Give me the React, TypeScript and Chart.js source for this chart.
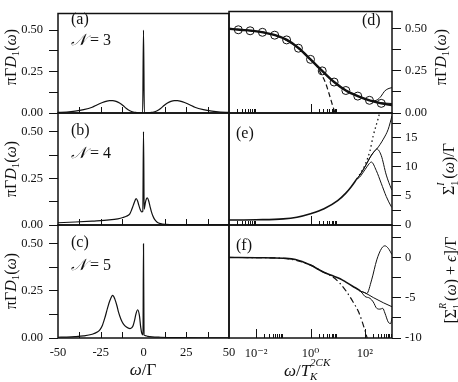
import React, { useEffect, useRef } from "react";
import { Chart, registerables } from "chart.js";

Chart.register(...registerables);

const W = 458;
const H = 382;
const SERIF = '"Liberation Serif", "Times New Roman", "DejaVu Serif", serif';
const INK = "#111";

// ---------- panel (a): N = 3 ----------
const omegaA = [-50, -45, -40, -35, -30, -27, -24, -22, -20, -18, -16, -14, -12, -10, -8, -6, -4, -2, -0.5, 0, 0.5, 2, 4, 6, 8, 10, 12, 14, 16, 18, 20, 22, 24, 27, 30, 35, 40, 45, 50];
const dosA = [0.004, 0.006, 0.011, 0.02, 0.035, 0.05, 0.063, 0.07, 0.075, 0.075, 0.07, 0.06, 0.045, 0.027, 0.014, 0.006, 0.003, 0.001, 0, 0.5, 0, 0.001, 0.003, 0.006, 0.014, 0.027, 0.045, 0.06, 0.07, 0.075, 0.075, 0.07, 0.063, 0.05, 0.035, 0.02, 0.011, 0.006, 0.004];

// ---------- panel (b): N = 4 ----------
const omegaB = [-50, -40, -30, -20, -15, -12, -10, -8, -7, -6, -5, -4.3, -3.5, -2.7, -1.8, -1.0, -0.4, 0, 0.4, 1.0, 1.6, 2.2, 3.0, 3.8, 4.6, 5.5, 6.5, 8, 10, 13, 20, 35, 50];
const dosB = [0.012, 0.016, 0.021, 0.027, 0.033, 0.04, 0.047, 0.06, 0.08, 0.105, 0.13, 0.142, 0.13, 0.105, 0.08, 0.07, 0.074, 0.5, 0.085, 0.115, 0.138, 0.145, 0.13, 0.1, 0.072, 0.048, 0.03, 0.015, 0.007, 0.003, 0.001, 0.0005, 0.0003];

// ---------- panel (c): N = 5 ----------
const omegaC = [-50, -45, -40, -35, -30, -27, -25.4, -24, -22.5, -21, -19.6, -18, -16.7, -15.5, -14.7, -13.2, -11.8, -10, -7.9, -6.8, -6, -5.2, -4.4, -3.4, -2.4, -1.6, -0.9, -0.3, 0, 0.3, 1, 2.5, 5, 10, 20, 35, 50];
const dosC = [0.004, 0.005, 0.007, 0.011, 0.02, 0.032, 0.045, 0.068, 0.11, 0.16, 0.2, 0.226, 0.205, 0.17, 0.14, 0.1, 0.075, 0.058, 0.05, 0.055, 0.068, 0.095, 0.128, 0.15, 0.12, 0.055, 0.022, 0.017, 0.5, 0.016, 0.013, 0.009, 0.006, 0.004, 0.002, 0.001, 0.0006];

// ---------- panel (d): spectral function vs omega/T_K ----------
const omegaDMain = [0.001, 0.0025, 0.0067, 0.018, 0.05, 0.135, 0.37, 1, 2.7, 7.4, 20, 55, 148, 403, 1000];
const dosDMain = [0.498, 0.492, 0.486, 0.477, 0.46, 0.432, 0.383, 0.317, 0.249, 0.183, 0.133, 0.1, 0.075, 0.057, 0.046];
const omegaDCircles = [0.0022, 0.006, 0.017, 0.048, 0.132, 0.36, 1, 2.7, 7.4, 20, 55, 148, 403];
const dosDCircles = [0.492, 0.486, 0.477, 0.46, 0.432, 0.383, 0.317, 0.249, 0.183, 0.133, 0.1, 0.075, 0.057];
const omegaDDash = [0.001, 0.0067, 0.05, 0.37, 1, 1.6, 2.3, 3.6, 4.8, 6.3, 7.6, 8.1];
const dosDDash = [0.498, 0.486, 0.46, 0.383, 0.317, 0.285, 0.24, 0.177, 0.115, 0.052, 0.012, 0];
const omegaDRise = [55, 148, 200, 282, 400, 525, 710, 1000];
const dosDRise = [0.1, 0.075, 0.072, 0.077, 0.1, 0.128, 0.143, 0.15];
const omegaDUpper = [148, 300, 1000];
const dosDUpper = [0.075, 0.063, 0.056];

// ---------- panel (e): imaginary self-energy ----------
const omegaEMain = [0.001, 0.01, 0.1, 0.316, 1, 3.16, 10, 20, 31.6, 50];
const sigEMain = [0.85, 0.9, 1.05, 1.35, 1.95, 2.8, 4.2, 5.5, 6.6, 7.9];
const omegaEDot = [50, 63, 100, 155, 204, 316, 360];
const sigEDot = [7.9, 8.6, 10.3, 12.8, 15.4, 18.5, 19.6];
const omegaERise = [50, 63, 100, 158, 224, 275, 480, 725, 1000];
const sigERise = [7.9, 8.5, 10.0, 11.7, 12.7, 13.1, 14.8, 16.5, 18.8];
const omegaEPeak = [50, 63, 100, 158, 224, 275, 400, 617, 933, 1000];
const sigEPeak = [7.9, 8.5, 10.0, 11.7, 12.7, 13.1, 12.0, 8.6, 6.3, 6.0];
const omegaELow = [50, 63, 100, 141, 174, 263, 400, 617, 933, 1000];
const sigELow = [7.9, 8.2, 9.5, 10.5, 10.85, 9.4, 7.2, 4.9, 3.2, 3.0];

// ---------- panel (f): real self-energy ----------
const omegaFMain = [0.001, 0.01, 0.1, 0.28, 1, 2.7, 5.5, 12.3, 19.5, 38, 60, 68];
const sigFMain = [0.05, 0.02, -0.05, -0.2, -0.9, -1.7, -2.15, -2.6, -3.0, -3.6, -4.0, -4.15];
const omegaFRise = [68, 100, 117, 178, 275, 417, 550, 724, 1000];
const sigFRise = [-4.15, -4.35, -4.45, -2.75, -0.25, 1.2, 1.5, 1.2, 0.4];
const omegaFSmooth = [68, 100, 204, 479, 1000];
const sigFSmooth = [-4.15, -4.35, -4.95, -5.6, -6.1];
const omegaFWavy = [60, 80, 100, 155, 204, 275, 363, 457, 550, 724, 890, 1000];
const sigFWavy = [-4.0, -4.4, -4.8, -5.05, -5.5, -6.3, -6.4, -6.3, -6.9, -8.0, -8.2, -7.5];
const omegaFDashDot = [0.001, 0.1, 1, 2.7, 5.5, 12.3, 21, 37, 58, 76, 100, 117, 130];
const sigFDashDot = [0.05, -0.05, -0.9, -1.7, -2.2, -3.2, -4.2, -5.5, -6.7, -7.75, -9.0, -9.8, -10.4];

// ---------- ticks ----------
const dosTicks = [0, 0.125, 0.25, 0.375, 0.5];
const dosTickLabels = ["0.00", "", "0.25", "", "0.50"];
const linXTicks = [-50, -25, 0, 25, 50];
const linXLabels = ["-50", "-25", "0", "25", "50"];
const linXInner = [-37.5, -25, -12.5, 12.5, 25, 37.5];
const sigITicks = [0, 2.5, 5, 7.5, 10, 12.5, 15, 17.5];
const sigITickLabels = ["0", "", "5", "", "10", "", "15", ""];
const sigRTicks = [-10, -7.5, -5, -2.5, 0, 2.5];
const sigRTickLabels = ["-10", "", "-5", "", "0", ""];
const logXTicks = [0.01, 1, 100];
const logXLabels = ["10\u207B\u00B2", "10\u2070", "10\u00B2"];
const deInnerMajor = [1];
const deInnerMinor = [0.002, 0.003, 0.004, 0.005, 0.006, 0.007, 0.008, 0.009, 2, 3, 4, 5, 6, 7, 8, 9];
const fInnerMajor = [0.01, 1, 100];
const fInnerMinor = [0.02, 0.03, 0.04, 0.05, 0.06, 0.07, 0.08, 0.09, 2, 3, 4, 5, 6, 7, 8, 9, 200, 300, 400, 500, 600, 700, 800, 900];

// ---------- geometry ----------
const X_LEFT = 58;
const X_MID = 229;
const X_RIGHT = 392;
const ROWS = [1, 113, 225, 338];

type Line = { xs: number[]; ys: number[]; width: number; dash?: number[]; markers?: boolean };
type Panel = {
  left: number; right: number; top: number; bottom: number;
  xLog: boolean; xMin: number; xMax: number;
  yMin: number; yMax: number; ySide: "left" | "right";
  yTicks: number[]; yLabels: string[];
  xTicks: number[] | null; xLabels: string[] | null; xPad: number;
  innerMajor: number[]; innerMinor: number[]; majorLen: number; minorLen: number;
  lines: Line[];
};

const leftPanel = (row: number, xs: number[], ys: number[], showX: boolean): Panel => ({
  left: X_LEFT, right: X_MID, top: ROWS[row], bottom: ROWS[row + 1],
  xLog: false, xMin: -50, xMax: 50, yMin: 0, yMax: 0.6, ySide: "left",
  yTicks: dosTicks, yLabels: dosTickLabels,
  xTicks: showX ? linXTicks : null, xLabels: showX ? linXLabels : null, xPad: 7,
  innerMajor: [], innerMinor: linXInner, majorLen: 6, minorLen: 6,
  lines: [{ xs, ys, width: 1.2 }],
});

const PANELS: Panel[] = [
  leftPanel(0, omegaA, dosA, false),
  leftPanel(1, omegaB, dosB, false),
  leftPanel(2, omegaC, dosC, true),
  {
    left: X_MID, right: X_RIGHT, top: ROWS[0], bottom: ROWS[1],
    xLog: true, xMin: 0.001, xMax: 1000, yMin: 0, yMax: 0.6, ySide: "right",
    yTicks: dosTicks, yLabels: dosTickLabels, xTicks: null, xLabels: null, xPad: 8,
    innerMajor: deInnerMajor, innerMinor: deInnerMinor, majorLen: 9, minorLen: 4,
    lines: [
      { xs: omegaDDash, ys: dosDDash, width: 1.2, dash: [5, 3] },
      { xs: omegaDRise, ys: dosDRise, width: 1 },
      { xs: omegaDUpper, ys: dosDUpper, width: 1 },
      { xs: omegaDMain, ys: dosDMain, width: 2.4 },
      { xs: omegaDCircles, ys: dosDCircles, width: 1, markers: true },
    ],
  },
  {
    left: X_MID, right: X_RIGHT, top: ROWS[1], bottom: ROWS[2],
    xLog: true, xMin: 0.001, xMax: 1000, yMin: 0, yMax: 19.3, ySide: "right",
    yTicks: sigITicks, yLabels: sigITickLabels, xTicks: null, xLabels: null, xPad: 8,
    innerMajor: deInnerMajor, innerMinor: deInnerMinor, majorLen: 9, minorLen: 4,
    lines: [
      { xs: omegaEMain, ys: sigEMain, width: 1.6 },
      { xs: omegaEDot, ys: sigEDot, width: 1.3, dash: [1.5, 3] },
      { xs: omegaERise, ys: sigERise, width: 1 },
      { xs: omegaEPeak, ys: sigEPeak, width: 1 },
      { xs: omegaELow, ys: sigELow, width: 1 },
    ],
  },
  {
    left: X_MID, right: X_RIGHT, top: ROWS[2], bottom: ROWS[3],
    xLog: true, xMin: 0.001, xMax: 1000, yMin: -10, yMax: 4.1, ySide: "right",
    yTicks: sigRTicks, yLabels: sigRTickLabels, xTicks: logXTicks, xLabels: logXLabels, xPad: 8,
    innerMajor: fInnerMajor, innerMinor: fInnerMinor, majorLen: 9, minorLen: 4,
    lines: [
      { xs: omegaFDashDot, ys: sigFDashDot, width: 1.2, dash: [6, 3, 1.5, 3] },
      { xs: omegaFMain, ys: sigFMain, width: 1.6 },
      { xs: omegaFRise, ys: sigFRise, width: 1 },
      { xs: omegaFSmooth, ys: sigFSmooth, width: 1 },
      { xs: omegaFWavy, ys: sigFWavy, width: 1 },
    ],
  },
];

const framePlugin = {
  id: "frame",
  afterDatasetsDraw(chart: any, _args: any, opts: any) {
    const { ctx, chartArea: a } = chart;
    const xs = chart.scales.x;
    ctx.save();
    ctx.strokeStyle = INK;
    ctx.lineWidth = 1;
    const tick = (v: number, len: number) => {
      const px = Math.round(xs.getPixelForValue(v)) + 0.5;
      ctx.beginPath();
      ctx.moveTo(px, a.bottom);
      ctx.lineTo(px, a.bottom - len);
      ctx.stroke();
    };
    (opts.minor || []).forEach((v: number) => tick(v, opts.minorLen));
    (opts.major || []).forEach((v: number) => tick(v, opts.majorLen));
    ctx.lineWidth = 1.5;
    ctx.strokeRect(a.left, a.top, a.right - a.left, a.bottom - a.top);
    ctx.restore();
  },
};

function PanelChart({ p }: { p: Panel }) {
  const ref = useRef<HTMLCanvasElement>(null);
  useEffect(() => {
    const showX = !!p.xTicks;
    const font = { family: SERIF, size: 12.5 };
    const chart = new Chart(ref.current!, {
      type: "line",
      data: {
        datasets: p.lines.map((l) => ({
          data: l.xs.map((x, i) => ({ x, y: l.ys[i] })),
          borderColor: INK,
          borderWidth: l.width,
          borderDash: l.dash || [],
          showLine: !l.markers,
          pointRadius: l.markers ? 4 : 0,
          pointBorderWidth: 1,
          pointBorderColor: INK,
          pointBackgroundColor: "rgba(0,0,0,0)",
          cubicInterpolationMode: "monotone" as const,
          fill: false,
        })),
      },
      options: {
        animation: false,
        responsive: false,
        events: [],
        layout: {
          autoPadding: false,
          padding: {
            left: p.ySide === "left" ? 0 : p.left,
            right: p.ySide === "left" ? W - p.right : 0,
            top: p.top,
            bottom: showX ? 0 : H - p.bottom,
          },
        },
        plugins: {
          legend: { display: false },
          tooltip: { enabled: false },
          frame: { major: p.innerMajor, minor: p.innerMinor, majorLen: p.majorLen, minorLen: p.minorLen },
        } as any,
        scales: {
          x: {
            type: p.xLog ? "logarithmic" : "linear",
            min: p.xMin,
            max: p.xMax,
            display: showX,
            grid: { display: false, drawTicks: false },
            border: { display: false },
            ticks: {
              font,
              color: INK,
              padding: p.xPad,
              maxRotation: 0,
              autoSkip: false,
              callback: (_v: any, i: number) => (p.xLabels ? p.xLabels[i] : ""),
            },
            afterBuildTicks: (s: any) => {
              if (p.xTicks) s.ticks = p.xTicks.map((value) => ({ value }));
            },
            afterFit: (s: any) => {
              if (showX) s.height = H - p.bottom;
            },
          } as any,
          y: {
            type: "linear",
            position: p.ySide,
            min: p.yMin,
            max: p.yMax,
            grid: { display: true, drawOnChartArea: false, drawTicks: true, tickLength: 9, color: INK, lineWidth: 1 },
            border: { display: false },
            ticks: {
              font,
              color: INK,
              padding: p.ySide === "left" ? 6 : 4,
              autoSkip: false,
              callback: (_v: any, i: number) => p.yLabels[i],
            },
            afterBuildTicks: (s: any) => {
              s.ticks = p.yTicks.map((value) => ({ value }));
            },
            afterFit: (s: any) => {
              s.width = p.ySide === "left" ? p.left : W - p.right;
            },
          } as any,
        },
      },
      plugins: [framePlugin],
    });
    return () => chart.destroy();
  }, []);
  return <canvas ref={ref} width={W} height={H} style={{ position: "absolute", left: 0, top: 0 }} />;
}

const base: React.CSSProperties = {
  position: "absolute",
  fontFamily: SERIF,
  color: INK,
  whiteSpace: "nowrap",
  lineHeight: 1,
};

function VTitle({ cx, cy, children }: { cx: number; cy: number; children: React.ReactNode }) {
  return (
    <div style={{ ...base, left: cx, top: cy, fontSize: 16, transform: "translate(-50%, -50%) rotate(-90deg)" }}>
      {children}
    </div>
  );
}

// stacked superscript / subscript (font size in px of parent)
function SubSup({ sup, sub, fs, width }: { sup: React.ReactNode; sub: React.ReactNode; fs: number; width: number }) {
  const s = Math.round(fs * 0.64);
  return (
    <span style={{ position: "relative", display: "inline-block", width, height: fs, verticalAlign: "baseline" }}>
      <span style={{ position: "absolute", left: 0, top: Math.round(fs * -0.12), fontSize: s, lineHeight: 1 }}>{sup}</span>
      <span style={{ position: "absolute", left: 0, top: Math.round(fs * 0.72), fontSize: s, lineHeight: 1 }}>{sub}</span>
    </span>
  );
}

const sub: React.CSSProperties = { fontSize: "0.68em", verticalAlign: "-0.3em" };

const DosTitle = () => (
  <>
    πΓ<i>D</i>
    <span style={sub}>1</span>(<i>ω</i>)
  </>
);

function Label({ x, y, children, size = 16 }: { x: number; y: number; children: React.ReactNode; size?: number }) {
  return <div style={{ ...base, left: x, top: y, fontSize: size }}>{children}</div>;
}

export default function App() {
  return (
    <div style={{ position: "absolute", left: 0, top: 0, width: W, height: H, background: "#fff", overflow: "hidden" }}>
      {PANELS.map((p, i) => (
        <PanelChart key={i} p={p} />
      ))}
      <VTitle cx={12} cy={57}><DosTitle /></VTitle>
      <VTitle cx={12} cy={169}><DosTitle /></VTitle>
      <VTitle cx={12} cy={281}><DosTitle /></VTitle>
      <VTitle cx={442} cy={57}><DosTitle /></VTitle>
      <VTitle cx={447} cy={169}>
        Σ<SubSup fs={16} width={7} sup={<i>I</i>} sub="1" />(<i>ω</i>)/Γ
      </VTitle>
      <VTitle cx={449} cy={280}>
        [Σ<SubSup fs={16} width={8} sup={<i>R</i>} sub="1" />(<i>ω</i>) + <i>ϵ</i>]/Γ
      </VTitle>
      <Label x={71} y={11}>(a)</Label>
      <Label x={71} y={32}><i>𝒩</i> = 3</Label>
      <Label x={71} y={122}>(b)</Label>
      <Label x={71} y={145}><i>𝒩</i> = 4</Label>
      <Label x={71} y={234}>(c)</Label>
      <Label x={71} y={257}><i>𝒩</i> = 5</Label>
      <Label x={362} y={12}>(d)</Label>
      <Label x={236} y={125}>(e)</Label>
      <Label x={236} y={237}>(f)</Label>
      <div style={{ ...base, left: 143, top: 361, fontSize: 17, transform: "translateX(-50%)" }}>
        <i>ω</i>/Γ
      </div>
      <div style={{ ...base, left: 308, top: 359, fontSize: 17, transform: "translateX(-50%)" }}>
        <i>ω</i>/<i>T</i>
        <SubSup fs={17} width={22} sup={<i>2CK</i>} sub={<i>K</i>} />
      </div>
    </div>
  );
}
